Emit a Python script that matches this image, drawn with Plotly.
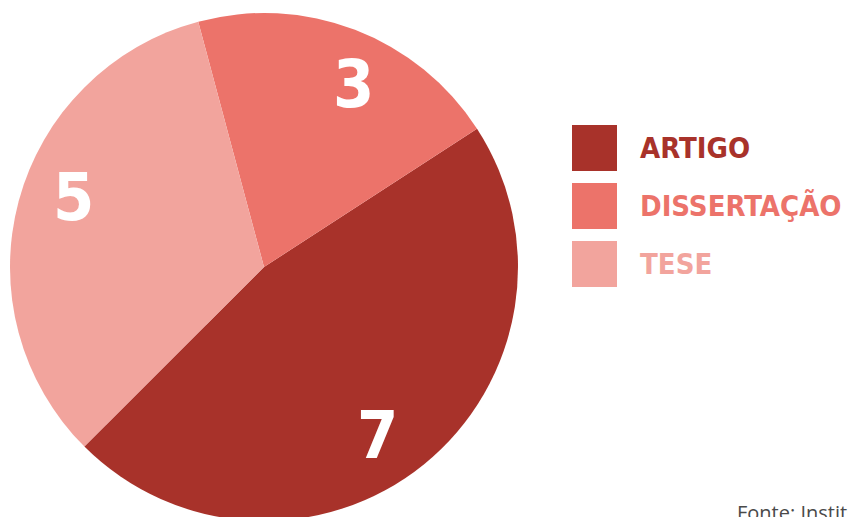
import math
import plotly.graph_objects as go

# Publication types and counts
categorias = ["ARTIGO", "DISSERTAÇÃO", "TESE"]
quantidades = [7, 3, 5]
cores = ["#A8322A", "#EC736A", "#F2A49D"]
fonte = "Fonte: Instituto"

W, H = 848, 530
cx, cy, raio = 264, 267, 254
label_r = 0.80       # value labels sit at this fraction of the radius
label_nudge = 5      # small clockwise shift of the value labels (degrees)
cond = "DejaVu Sans Condensed, DejaVu Sans, sans-serif"

fig = go.Figure(
    go.Pie(
        labels=categorias,
        values=quantidades,
        sort=False,
        direction="counterclockwise",
        rotation=57,
        marker=dict(colors=cores, line=dict(width=0)),
        textinfo="none",
        showlegend=False,
        hoverinfo="label+value",
        domain=dict(
            x=[(cx - raio) / W, (cx + raio) / W],
            y=[(H - (cy + raio)) / H, (H - (cy - raio)) / H],
        ),
    )
)

annotations = []

# Value labels placed along each slice's bisector
total = sum(quantidades)
acumulado = 0
for v in quantidades:
    meio = 225 - (acumulado + v / 2) / total * 360 + label_nudge
    acumulado += v
    a = math.radians(meio)
    px = cx + label_r * raio * math.sin(a)
    py = cy - label_r * raio * math.cos(a)
    annotations.append(dict(
        text=str(v), xref="paper", yref="paper",
        x=px / W, y=1 - py / H, xanchor="center", yanchor="middle",
        showarrow=False,
        font=dict(color="white", size=66, family=cond, weight="bold"),
    ))

# Hand-built legend: colour squares with coloured labels
shapes = []
top0, box, step = 125, 46, 58
for i, (nome, cor) in enumerate(zip(categorias, cores)):
    y0 = top0 + i * step
    shapes.append(dict(
        type="rect", xref="paper", yref="paper",
        x0=572 / W, x1=617 / W,
        y0=1 - (y0 + box) / H, y1=1 - y0 / H,
        fillcolor=cor, line=dict(width=0),
    ))
    annotations.append(dict(
        text=nome, xref="paper", yref="paper",
        x=638 / W, y=1 - (y0 + box / 2) / H,
        xanchor="left", yanchor="middle", showarrow=False,
        font=dict(color=cor, size=29, family=cond, weight="bold"),
    ))

annotations.append(dict(
    text=fonte, xref="paper", yref="paper",
    x=735 / W, y=1 - 497 / H, xanchor="left", yanchor="top",
    showarrow=False,
    font=dict(color="#4a4a4a", size=20, family="Open Sans, sans-serif"),
))

fig.update_layout(
    width=W, height=H,
    margin=dict(l=0, r=0, t=0, b=0),
    paper_bgcolor="white", plot_bgcolor="white",
    shapes=shapes, annotations=annotations,
)

fig.write_html(
    "out.html",
    config={"displayModeBar": False},
    post_script="document.body.style.margin='0';document.body.style.overflow='hidden';",
)
